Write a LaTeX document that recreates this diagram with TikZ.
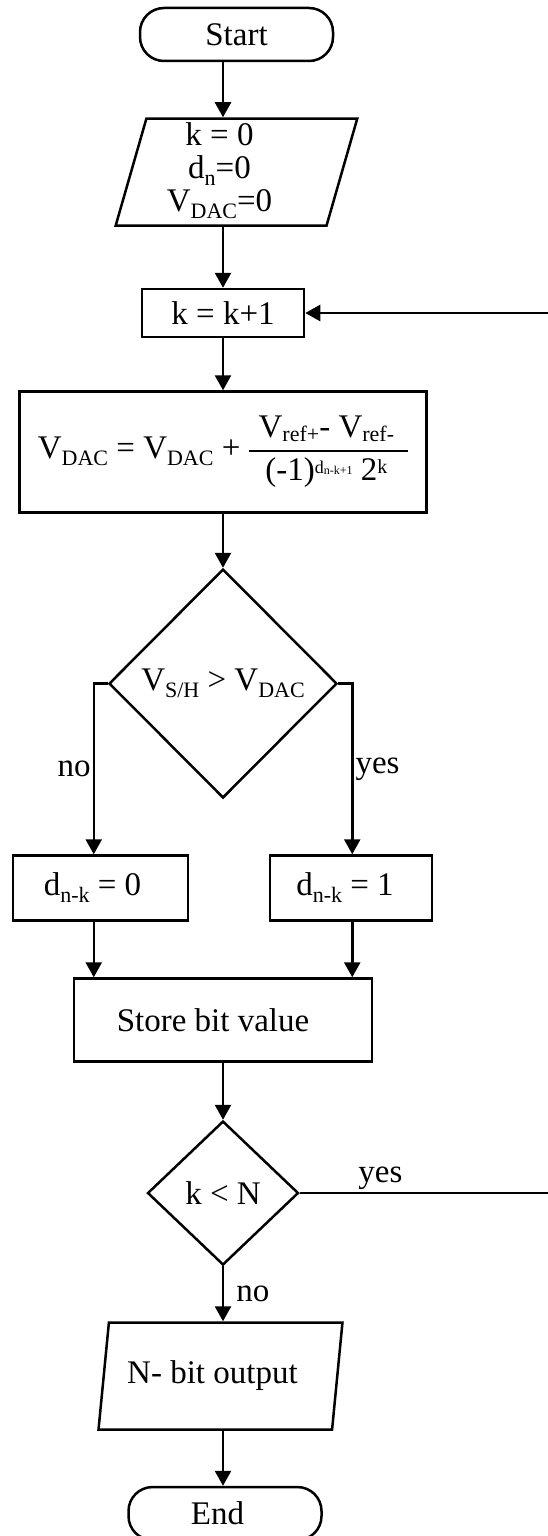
\documentclass[tikz,border=0pt]{standalone}
\usepackage{fontspec}
\setmainfont{Liberation Serif}
\usetikzlibrary{arrows.meta,positioning,shapes.geometric}
\newcommand{\lowtxt}[3]{\raisebox{#1}{\fontsize{#2}{#2}\selectfont #3}}
\newcommand{\idx}[1]{\lowtxt{-7pt}{22}{#1}}
\setlength{\arrayrulewidth}{2.2pt}

\begin{document}
\begin{tikzpicture}[->,>={Triangle[length=15pt,width=16pt]},line width=2.5pt,font=\fontsize{33}{33}\selectfont,
  term/.style={rectangle,rounded corners=24pt,draw,inner sep=0pt,minimum width=193pt,minimum height=53pt},
  io/.style={trapezium,trapezium left angle=76.5,trapezium right angle=103.5,trapezium stretches=true,draw,inner sep=0pt,minimum height=107pt},
  proc/.style={rectangle,draw,inner sep=0pt},
  dec/.style={diamond,draw,inner sep=0pt},
  lbl/.style={inner sep=2pt}]
  \useasboundingbox (0,0) rectangle (547pt,-1536pt);
  \node[term] (1) at (236.5pt,-34.5pt) {Start};
  \node[io,minimum width=242pt] (2) [below=55pt of 1] {\begin{tabular}{@{}c@{\hspace{34pt}}}k = 0\\ d\idx{n}=0\\ V\idx{DAC}=0\end{tabular}};
  \node[proc,minimum width=162pt,minimum height=48pt] (3) [below=61pt of 2,xshift=-13.5pt] {k = k+1};
  \node[proc,minimum width=407pt,minimum height=121pt] (4) [below=52pt of 3] {V\idx{DAC} = V\idx{DAC} + \begin{tabular}{@{\hspace{10pt}}c@{\hspace{14pt}}}V\lowtxt{-4pt}{22}{ref+}- V\lowtxt{-4pt}{22}{ref-}\rule[-13pt]{0pt}{0pt}\\ \hline\rule{0pt}{28pt}(-1)\lowtxt{7pt}{18}{d\lowtxt{-1pt}{12}{n-k+1}} 2\lowtxt{7pt}{20}{k}\end{tabular}};
  \node[dec,minimum width=228pt,minimum height=229pt] (5) [below=54pt of 4] {V\idx{S/H} > V\idx{DAC}};
  \node[proc,minimum width=175pt,minimum height=65pt] (6) [below=55pt of 5,xshift=-122.5pt] {\hspace*{-16pt}d\idx{n-k} = 0};
  \node[proc,minimum width=162pt,minimum height=65pt] (7) [below=55pt of 5,xshift=128pt] {\hspace*{-12pt}d\idx{n-k} = 1};
  \node[proc,minimum width=298pt,minimum height=83pt] (8) [below=178pt of 5] {\hspace*{-20pt}Store bit value};
  \node[dec,minimum width=151pt,minimum height=144pt] (9) [below=57pt of 8] {k < N};
  \node[io,minimum width=244pt] (10) [below=55pt of 9,xshift=-2.5pt] {\hspace*{-16pt}N- bit output};
  \node[term] (11) [below=55pt of 10,xshift=4.5pt] {\hspace*{-15pt}End};
  \coordinate[left=14pt of 5.west] (12);
  \coordinate[right=14pt of 5.east] (13);
  \coordinate[right=252pt of 9.east] (14);
  \draw (1.south -| 3) -- (2.north -| 3);
  \draw (2.south -| 3) -- (3);
  \draw (3) -- (4);
  \draw (4) -- (5);
  \draw (5.west) -- (12) -- node[lbl,left]{no} (12 |- 6.north);
  \draw (5.east) -- (13) -- node[lbl,right]{yes} (13 |- 7.north);
  \draw (12 |- 6.south) -- (12 |- 8.north);
  \draw (13 |- 7.south) -- (13 |- 8.north);
  \draw (8) -- (9);
  \draw (9) -- node[lbl,right=10pt]{no} (10.north -| 9);
  \draw (10.south -| 9) -- (11.north -| 9);
  \draw (9.east) -- node[lbl,above,pos=0.32]{yes} (14) |- (3.east);
\end{tikzpicture}
\end{document}
